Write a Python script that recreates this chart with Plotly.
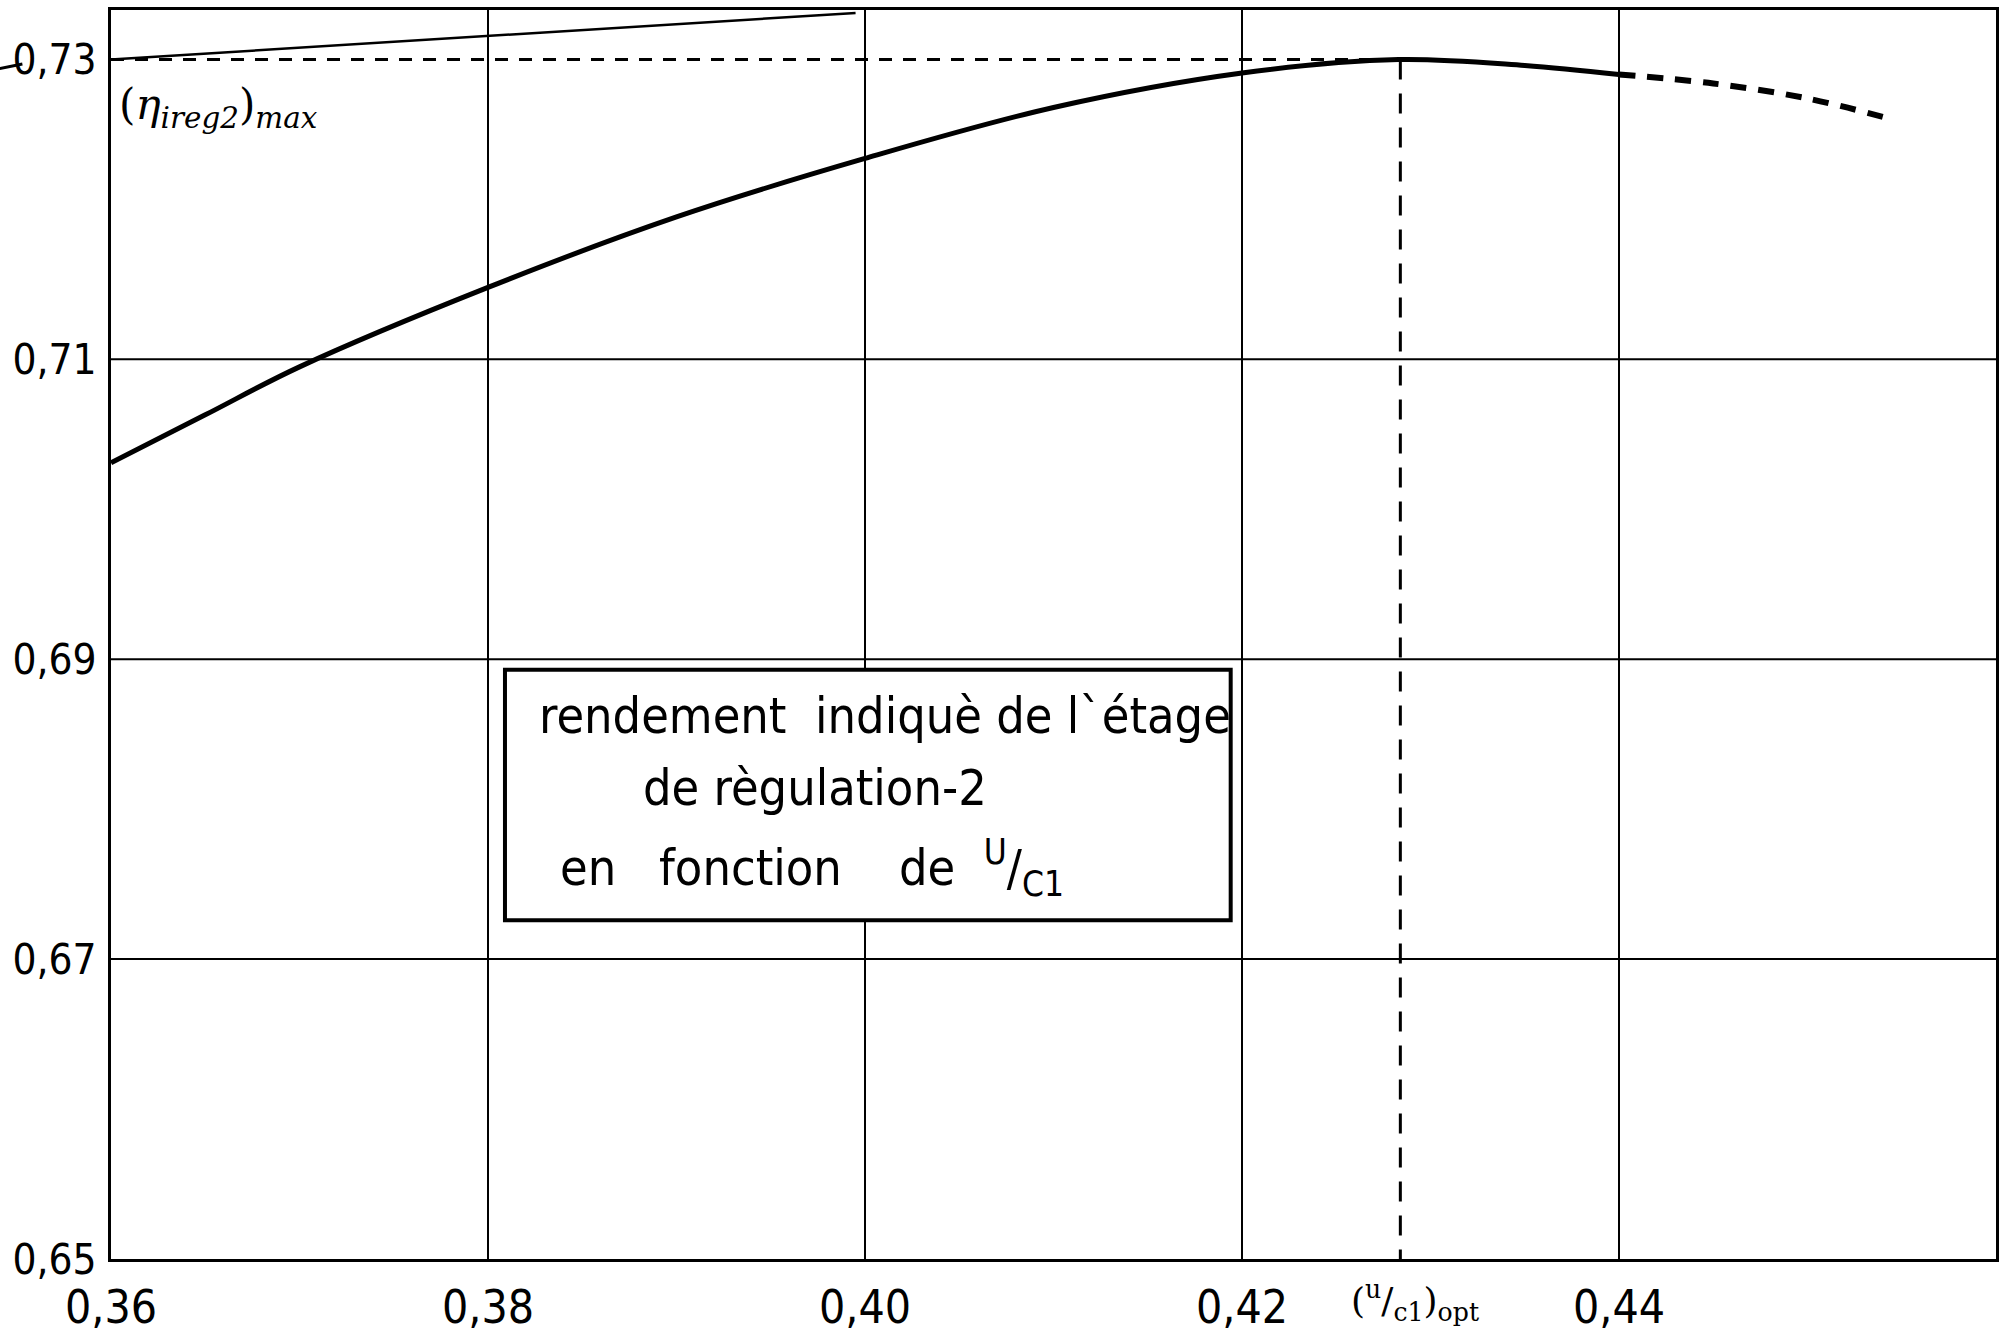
import plotly.graph_objects as go

# ---- data ----
U_SOLID = [0.36, 0.365, 0.37, 0.38, 0.39, 0.40, 0.41, 0.42, 0.4283, 0.435, 0.44]
ETA_SOLID = [0.7031, 0.7063, 0.7095, 0.7148, 0.7195, 0.7234, 0.7268, 0.7291, 0.7300, 0.7296, 0.7290]

U_DASH = [0.44, 0.445, 0.45, 0.4545]
ETA_DASH = [0.7290, 0.7284, 0.7274, 0.7260]

U_OPT = 0.4284
ETA_MAX = 0.7300

# stray pencil stroke above the curve
U_STROKE = [0.36, 0.3995]
ETA_STROKE = [0.7300, 0.7331]

X_TICKS = [0.36, 0.38, 0.40, 0.42, 0.44]
X_LABELS = ["0,36", "0,38", "0,40", "0,42", "0,44"]
Y_TICKS = [0.65, 0.67, 0.69, 0.71, 0.73]
Y_LABELS = ["0,65", "0,67", "0,69", "0,71", "0,73"]
GRID_X = [0.38, 0.40, 0.42, 0.44]
GRID_Y = [0.67, 0.69, 0.71]

X_RANGE = [0.36, 0.46]
Y_RANGE = [0.65, 0.7333]

BOX_X = [0.3809, 0.4194]
BOX_Y = [0.6726, 0.6893]
BOX_LINES = [
    ("rendement  indiquè de l`étage", 0.3826, 0.6862),
    ("de règulation-2", 0.3881, 0.6814),
    ("en\u00a0\u00a0 fonction\u00a0\u00a0\u00a0 de\u00a0 <sup>U</sup>/<sub>C1</sub>", 0.3837, 0.6761),
]

FONT = "DejaVu Sans Condensed, DejaVu Sans, sans-serif"
HAND = "DejaVu Serif, serif"

fig = go.Figure()

fig.add_trace(go.Scatter(x=U_STROKE, y=ETA_STROKE, mode="lines",
                         line=dict(color="black", width=2.5), hoverinfo="skip"))
fig.add_trace(go.Scatter(x=U_SOLID, y=ETA_SOLID, mode="lines",
                         line=dict(color="black", width=5, shape="spline"), hoverinfo="skip"))
fig.add_trace(go.Scatter(x=U_DASH, y=ETA_DASH, mode="lines",
                         line=dict(color="black", width=6, shape="spline", dash="16px,12px"),
                         hoverinfo="skip"))
# (eta)max horizontal dashed line and (u/c1)opt vertical dashed line
fig.add_trace(go.Scatter(x=[X_RANGE[0], U_OPT], y=[ETA_MAX, ETA_MAX], mode="lines",
                         line=dict(color="black", width=3, dash="13px,11px"), hoverinfo="skip"))
fig.add_trace(go.Scatter(x=[U_OPT, U_OPT], y=[ETA_MAX, Y_RANGE[0]], mode="lines",
                         line=dict(color="black", width=3, dash="20px,14px"), hoverinfo="skip"))

shapes = []
for gx in GRID_X:
    shapes.append(dict(type="line", xref="x", yref="y domain", x0=gx, x1=gx, y0=0, y1=1,
                       line=dict(color="black", width=2), layer="below"))
for gy in GRID_Y:
    shapes.append(dict(type="line", xref="x domain", yref="y", x0=0, x1=1, y0=gy, y1=gy,
                       line=dict(color="black", width=2), layer="below"))
shapes.append(dict(type="rect", xref="x", yref="y", x0=BOX_X[0], x1=BOX_X[1],
                   y0=BOX_Y[0], y1=BOX_Y[1], line=dict(color="black", width=4),
                   fillcolor="white"))
# little underline stroke left of the 0,73 label
shapes.append(dict(type="line", xref="paper", yref="y", x0=-0.059, x1=-0.047,
                   y0=0.7294, y1=0.7297, line=dict(color="black", width=3)))

annotations = []
for txt, ax, ay in BOX_LINES:
    annotations.append(dict(x=ax, y=ay, xref="x", yref="y", text=txt, showarrow=False,
                            xanchor="left", yanchor="middle",
                            font=dict(family=FONT, size=50, color="black")))
annotations.append(dict(x=0.3603, y=0.7268, xref="x", yref="y",
                        text="(<i>η</i><sub><i>ireg2</i></sub>)<sub><i>max</i></sub>",
                        showarrow=False, xanchor="left", yanchor="middle",
                        font=dict(family=HAND, size=42, color="black")))
annotations.append(dict(x=0.4292, y=-0.034, xref="x", yref="paper",
                        text="(<sup>u</sup>/<sub>c1</sub>)<sub>opt</sub>",
                        showarrow=False, xanchor="center", yanchor="middle",
                        font=dict(family=HAND, size=36, color="black")))

fig.update_layout(
    width=2004, height=1336,
    margin=dict(l=111, r=8, t=10, b=77),
    paper_bgcolor="white", plot_bgcolor="white",
    showlegend=False,
    shapes=shapes, annotations=annotations,
    xaxis=dict(range=X_RANGE, tickvals=X_TICKS, ticktext=X_LABELS, showgrid=False,
               zeroline=False, showline=True, mirror=True, linecolor="black", linewidth=3,
               ticks="", ticklabelstandoff=6, automargin=False,
               tickfont=dict(family=FONT, size=46, color="black")),
    yaxis=dict(range=Y_RANGE, tickvals=Y_TICKS, ticktext=Y_LABELS, showgrid=False,
               zeroline=False, showline=True, mirror=True, linecolor="black", linewidth=3,
               ticks="", ticklabelstandoff=3, automargin=False,
               tickfont=dict(family=FONT, size=42, color="black")),
)

fig.write_html("out.html")
